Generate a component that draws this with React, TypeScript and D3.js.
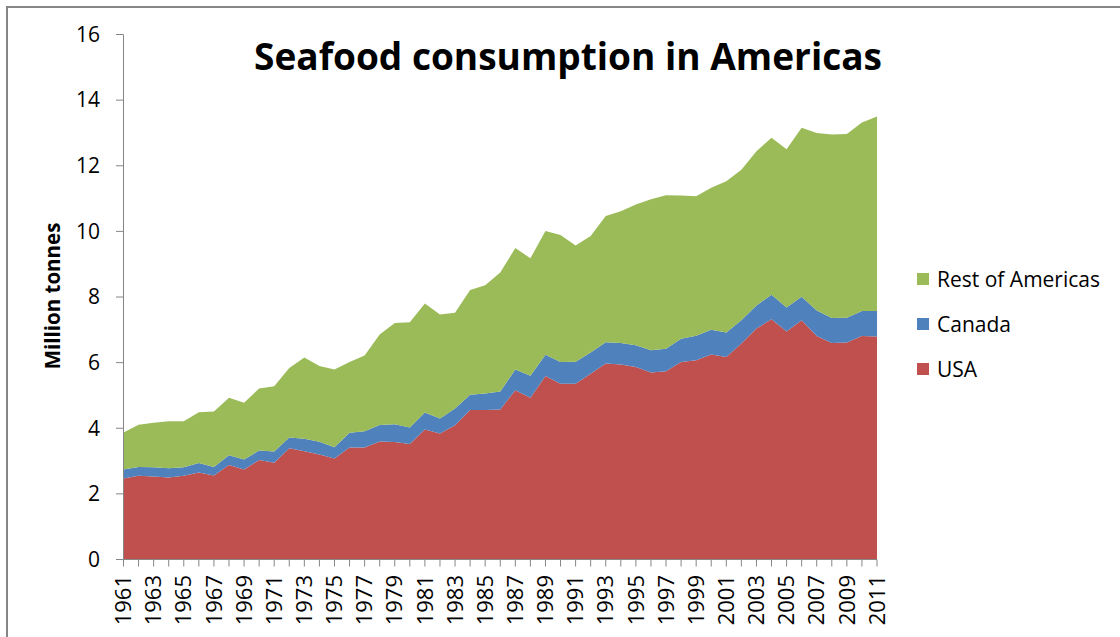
import React from "react";
import * as d3 from "d3";

const years: number[] = d3.range(1961, 2012);
const usa: number[] = [
  2.47, 2.55, 2.53, 2.50, 2.55, 2.65, 2.56, 2.88, 2.74, 3.03,
  2.95, 3.39, 3.30, 3.20, 3.08, 3.41, 3.41, 3.60, 3.58, 3.52,
  3.96, 3.84, 4.09, 4.56, 4.56, 4.57, 5.16, 4.93, 5.59, 5.36,
  5.36, 5.66, 5.97, 5.94, 5.87, 5.70, 5.74, 6.02, 6.07, 6.25,
  6.17, 6.58, 7.04, 7.32, 6.95, 7.29, 6.81, 6.60, 6.61, 6.81,
  6.80,
];
const canada: number[] = [
  0.27, 0.27, 0.28, 0.28, 0.26, 0.29, 0.26, 0.30, 0.31, 0.29,
  0.34, 0.33, 0.38, 0.39, 0.34, 0.45, 0.50, 0.50, 0.54, 0.50,
  0.52, 0.46, 0.51, 0.46, 0.50, 0.55, 0.63, 0.67, 0.65, 0.66,
  0.67, 0.65, 0.65, 0.66, 0.66, 0.68, 0.68, 0.71, 0.75, 0.75,
  0.75, 0.71, 0.70, 0.75, 0.73, 0.72, 0.78, 0.76, 0.76, 0.76,
  0.77,
];
const restOfAmericas: number[] = [
  1.13, 1.29, 1.36, 1.43, 1.40, 1.55, 1.69, 1.75, 1.73, 1.89,
  1.99, 2.12, 2.48, 2.31, 2.37, 2.16, 2.31, 2.76, 3.09, 3.21,
  3.32, 3.17, 2.92, 3.19, 3.30, 3.63, 3.70, 3.58, 3.77, 3.87,
  3.54, 3.55, 3.85, 4.01, 4.29, 4.60, 4.68, 4.36, 4.25, 4.33,
  4.61, 4.59, 4.70, 4.78, 4.82, 5.15, 5.41, 5.59, 5.60, 5.75,
  5.93,
];
const seriesNames: string[] = ["USA", "Canada", "Rest of Americas"];
const seriesColors: string[] = ["#C0504D", "#4F81BD", "#9BBB59"];
const yTicks: number[] = [0, 2, 4, 6, 8, 10, 12, 14, 16];
const xLabelYears: number[] = years.filter((y) => (y - 1961) % 2 === 0);

const W = 1120;
const H = 637;
const FONT = "'Open Sans', 'DejaVu Sans', sans-serif";

export default function App() {
  const rows = years.map((y, i) => ({
    year: y,
    USA: usa[i],
    Canada: canada[i],
    "Rest of Americas": restOfAmericas[i],
  }));
  const stacked = d3.stack<any>().keys(seriesNames)(rows);

  const x = d3.scaleLinear().domain([1961, 2011]).range([123.5, 877]);
  const y = d3.scaleLinear().domain([0, 16]).range([559.5, 34.5]);

  const area = d3
    .area<any>()
    .x((d) => x(d.data.year))
    .y0((d) => y(d[0]))
    .y1((d) => y(d[1]));

  const axisColor = "#868686";
  const legendOrder = [2, 1, 0];

  return (
    <svg
      width={W}
      height={H}
      style={{ position: "absolute", left: 0, top: 0, background: "#fff" }}
    >
      <rect x={0} y={0} width={W} height={H} fill="#fff" />
      <rect
        x={7}
        y={7}
        width={1300}
        height={800}
        fill="none"
        stroke={axisColor}
        strokeWidth={2}
      />
      {stacked.map((s, i) => (
        <path key={seriesNames[i]} d={area(s) || ""} fill={seriesColors[i]} />
      ))}
      {/* y axis */}
      <line x1={123.5} x2={123.5} y1={y(16)} y2={y(0)} stroke={axisColor} strokeWidth={1} />
      {yTicks.map((t) => (
        <g key={t}>
          <line x1={116} x2={123.5} y1={y(t)} y2={y(t)} stroke={axisColor} strokeWidth={1} />
          <text
            x={100}
            y={y(t)}
            dy="0.35em"
            textAnchor="end"
            fontFamily={FONT}
            fontSize={21}
            fill="#000"
          >
            {t}
          </text>
        </g>
      ))}
      {/* x axis */}
      <line x1={123.5} x2={877} y1={y(0)} y2={y(0)} stroke={axisColor} strokeWidth={1} />
      {years.map((yr) => (
        <line
          key={yr}
          x1={x(yr)}
          x2={x(yr)}
          y1={y(0)}
          y2={y(0) + 7}
          stroke={axisColor}
          strokeWidth={1}
        />
      ))}
      {xLabelYears.map((yr) => (
        <text
          key={yr}
          transform={`translate(${x(yr)},575) rotate(-90)`}
          textAnchor="end"
          dy="0.35em"
          fontFamily={FONT}
          fontSize={22}
          fill="#000"
        >
          {yr}
        </text>
      ))}
      {/* y axis title */}
      <text
        transform="translate(53,296) rotate(-90)"
        textAnchor="middle"
        dy="0.35em"
        fontFamily={FONT}
        fontWeight="bold"
        fontSize={20.5}
        fill="#000"
      >
        Million tonnes
      </text>
      {/* title */}
      <text
        x={568}
        y={70}
        textAnchor="middle"
        fontFamily={FONT}
        fontWeight="bold"
        fontSize={38}
        fill="#000"
        textLength={628}
        lengthAdjust="spacingAndGlyphs"
      >
        Seafood consumption in Americas
      </text>
      {/* legend */}
      {legendOrder.map((si, k) => (
        <g key={seriesNames[si]} transform={`translate(917,${273 + k * 45})`}>
          <rect x={0} y={0} width={12} height={12} fill={seriesColors[si]} />
          <text x={20} y={13.5} fontFamily={FONT} fontSize={21} fill="#000">
            {seriesNames[si]}
          </text>
        </g>
      ))}
    </svg>
  );
}
